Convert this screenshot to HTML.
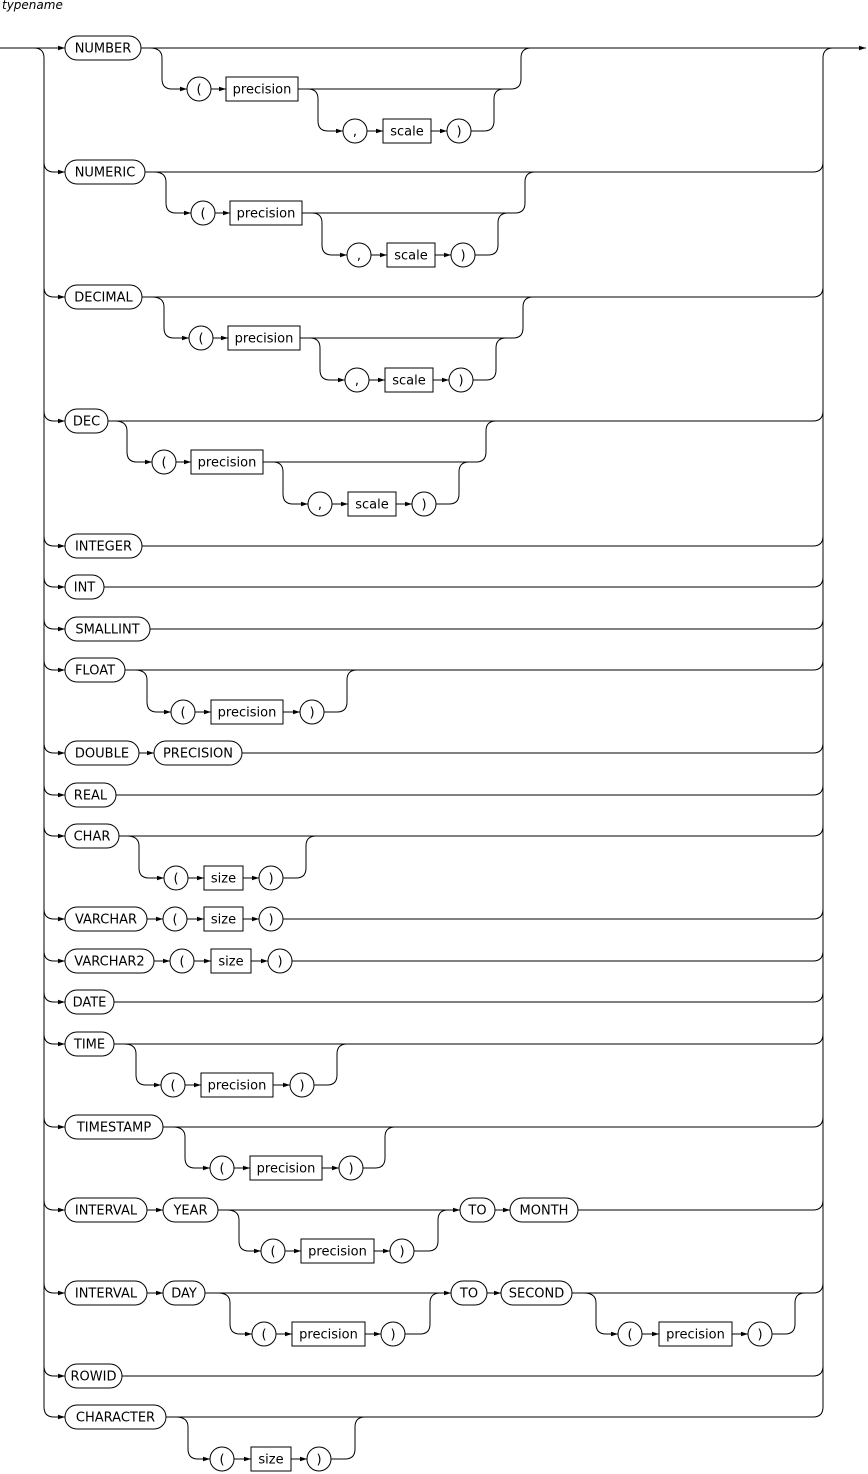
<!DOCTYPE html>
<html><head><meta charset="utf-8"><style>
html,body{margin:0;padding:0;background:#fff}
svg{display:block}
text{font-family:"DejaVu Sans","Liberation Sans",sans-serif;font-size:13px;fill:#000;text-anchor:middle}
.p{fill:none;stroke:#000;stroke-width:1}
.n{fill:#fff;stroke:#000;stroke-width:1}
</style></head><body>
<svg width="868" height="1474" viewBox="0 0 868 1474" xmlns="http://www.w3.org/2000/svg">
<defs><marker id="a" markerWidth="7" markerHeight="6" refX="7" refY="3" orient="auto" markerUnits="userSpaceOnUse"><path d="M0,0.8 L7,3 L0,5.2z" fill="#000"/></marker>
<g id="opt">
<path class="p" d="M150 48 Q162 48 162 58 V79 Q162 89 172 89 H187" marker-end="url(#a)"/>
<circle class="n" cx="199" cy="89" r="12"/><text x="199" y="93.5">(</text>
<path class="p" d="M211 89 H226" marker-end="url(#a)"/>
<rect class="n" x="226" y="77" width="72" height="24"/><text x="262" y="93.5">precision</text>
<path class="p" d="M298 89 H511 Q521 89 521 79 V58 Q521 48 531 48"/>
<path class="p" d="M298 89 H308 Q318 89 318 99 V121 Q318 131 328 131 H343" marker-end="url(#a)"/>
<circle class="n" cx="355" cy="131" r="12"/><text x="355" y="135.5">,</text>
<path class="p" d="M367 131 H383" marker-end="url(#a)"/>
<rect class="n" x="383" y="119" width="48" height="24"/><text x="407" y="135.5">scale</text>
<path class="p" d="M431 131 H447" marker-end="url(#a)"/>
<circle class="n" cx="459" cy="131" r="12"/><text x="459" y="135.5">)</text>
<path class="p" d="M471 131 H484 Q494 131 494 121 V99 Q494 89 504 89"/>
</g></defs>
<text x="2" y="9" style="font-style:italic;text-anchor:start;font-size:12px">typename</text>
<path class="p" d="M0 48 H65" marker-end="url(#a)"/>
<path class="p" d="M141 48 H866" marker-end="url(#a)"/>
<path class="p" d="M34 48 Q44 48 44 58 V1407 Q44 1417 54 1417 H65" marker-end="url(#a)"/>
<path class="p" d="M166 1417 H813 Q823 1417 823 1407 V58 Q823 48 833 48"/>
<!-- left entries -->
<path class="p" d="M44 162 Q44 172 54 172 H65 M44 287 Q44 297 54 297 H65 M44 411 Q44 421 54 421 H65 M44 536 Q44 546 54 546 H65 M44 577 Q44 587 54 587 H65 M44 619 Q44 629 54 629 H65 M44 660 Q44 670 54 670 H65 M44 743 Q44 753 54 753 H65 M44 785 Q44 795 54 795 H65 M44 826 Q44 836 54 836 H65 M44 909 Q44 919 54 919 H65 M44 951 Q44 961 54 961 H65 M44 992 Q44 1002 54 1002 H65 M44 1034 Q44 1044 54 1044 H65 M44 1117 Q44 1127 54 1127 H65 M44 1200 Q44 1210 54 1210 H65 M44 1283 Q44 1293 54 1293 H65 M44 1366 Q44 1376 54 1376 H65"/>
<g fill="#000">
<polygon points="65,172 58,169.8 58,174.2"/><polygon points="65,297 58,294.8 58,299.2"/><polygon points="65,421 58,418.8 58,423.2"/><polygon points="65,546 58,543.8 58,548.2"/><polygon points="65,587 58,584.8 58,589.2"/><polygon points="65,629 58,626.8 58,631.2"/><polygon points="65,670 58,667.8 58,672.2"/><polygon points="65,753 58,750.8 58,755.2"/><polygon points="65,795 58,792.8 58,797.2"/><polygon points="65,836 58,833.8 58,838.2"/><polygon points="65,919 58,916.8 58,921.2"/><polygon points="65,961 58,958.8 58,963.2"/><polygon points="65,1002 58,999.8 58,1004.2"/><polygon points="65,1044 58,1041.8 58,1046.2"/><polygon points="65,1127 58,1124.8 58,1129.2"/><polygon points="65,1210 58,1207.8 58,1212.2"/><polygon points="65,1293 58,1290.8 58,1295.2"/><polygon points="65,1376 58,1373.8 58,1378.2"/>
</g>
<!-- right exits -->
<path class="p" d="M145 172 H813 Q823 172 823 162 M142 297 H813 Q823 297 823 287 M108 421 H813 Q823 421 823 411 M142 546 H813 Q823 546 823 536 M104 587 H813 Q823 587 823 577 M150 629 H813 Q823 629 823 619 M125 670 H813 Q823 670 823 660 M242 753 H813 Q823 753 823 743 M116 795 H813 Q823 795 823 785 M119 836 H813 Q823 836 823 826 M283 919 H813 Q823 919 823 909 M292 961 H813 Q823 961 823 951 M114 1002 H813 Q823 1002 823 992 M114 1044 H813 Q823 1044 823 1034 M163 1127 H813 Q823 1127 823 1117 M578 1210 H813 Q823 1210 823 1200 M572 1293 H813 Q823 1293 823 1283 M122 1376 H813 Q823 1376 823 1366"/>
<!-- rows 1-4 -->
<rect class="n" x="65" y="36" width="76" height="24" rx="12"/><text x="103" y="52.5">NUMBER</text>
<use href="#opt"/>
<rect class="n" x="65" y="160" width="80" height="24" rx="12"/><text x="105" y="176.5">NUMERIC</text>
<use href="#opt" transform="translate(4,124)"/>
<rect class="n" x="65" y="285" width="77" height="24" rx="12"/><text x="103.5" y="301.5">DECIMAL</text>
<use href="#opt" transform="translate(2,249)"/>
<rect class="n" x="65" y="409" width="43" height="24" rx="12"/><text x="86.5" y="425.5">DEC</text>
<use href="#opt" transform="translate(-35,373)"/>
<!-- simple rows -->
<rect class="n" x="65" y="534" width="77" height="24" rx="12"/><text x="103.5" y="550.5">INTEGER</text>
<rect class="n" x="65" y="575" width="39" height="24" rx="12"/><text x="84.5" y="591.5">INT</text>
<rect class="n" x="65" y="617" width="85" height="24" rx="12"/><text x="107.5" y="633.5">SMALLINT</text>
<!-- FLOAT -->
<rect class="n" x="65" y="658" width="60" height="24" rx="12"/><text x="95" y="674.5">FLOAT</text>
<path class="p" d="M135 670 Q147 670 147 680 V702 Q147 712 157 712 H171" marker-end="url(#a)"/>
<circle class="n" cx="183" cy="712" r="12"/><text x="183" y="716.5">(</text>
<path class="p" d="M195 712 H211" marker-end="url(#a)"/>
<rect class="n" x="211" y="700" width="72" height="24"/><text x="247" y="716.5">precision</text>
<path class="p" d="M283 712 H300" marker-end="url(#a)"/>
<circle class="n" cx="312" cy="712" r="12"/><text x="312" y="716.5">)</text>
<path class="p" d="M324 712 H337 Q347 712 347 702 V680 Q347 670 357 670"/>
<!-- DOUBLE PRECISION -->
<rect class="n" x="65" y="741" width="74" height="24" rx="12"/><text x="102" y="757.5">DOUBLE</text>
<path class="p" d="M139 753 H154" marker-end="url(#a)"/>
<rect class="n" x="154" y="741" width="88" height="24" rx="12"/><text x="198" y="757.5">PRECISION</text>
<rect class="n" x="65" y="783" width="51" height="24" rx="12"/><text x="90.5" y="799.5">REAL</text>
<!-- CHAR -->
<rect class="n" x="65" y="824" width="54" height="24" rx="12"/><text x="92" y="840.5">CHAR</text>
<path class="p" d="M127 836 Q139 836 139 846 V868 Q139 878 149 878 H164" marker-end="url(#a)"/>
<circle class="n" cx="176" cy="878" r="12"/><text x="176" y="882.5">(</text>
<path class="p" d="M188 878 H204" marker-end="url(#a)"/>
<rect class="n" x="204" y="866" width="39" height="24"/><text x="223.5" y="882.5">size</text>
<path class="p" d="M243 878 H259" marker-end="url(#a)"/>
<circle class="n" cx="271" cy="878" r="12"/><text x="271" y="882.5">)</text>
<path class="p" d="M283 878 H296 Q306 878 306 868 V846 Q306 836 316 836"/>
<!-- VARCHAR -->
<rect class="n" x="65" y="907" width="82" height="24" rx="12"/><text x="106" y="923.5">VARCHAR</text>
<path class="p" d="M147 919 H163" marker-end="url(#a)"/>
<circle class="n" cx="175" cy="919" r="12"/><text x="175" y="923.5">(</text>
<path class="p" d="M187 919 H204" marker-end="url(#a)"/>
<rect class="n" x="204" y="907" width="39" height="24"/><text x="223.5" y="923.5">size</text>
<path class="p" d="M243 919 H259" marker-end="url(#a)"/>
<circle class="n" cx="271" cy="919" r="12"/><text x="271" y="923.5">)</text>
<!-- VARCHAR2 -->
<rect class="n" x="65" y="949" width="89" height="24" rx="12"/><text x="109.5" y="965.5">VARCHAR2</text>
<path class="p" d="M154 961 H170" marker-end="url(#a)"/>
<circle class="n" cx="182" cy="961" r="12"/><text x="182" y="965.5">(</text>
<path class="p" d="M194 961 H211" marker-end="url(#a)"/>
<rect class="n" x="211" y="949" width="40" height="24"/><text x="231" y="965.5">size</text>
<path class="p" d="M251 961 H268" marker-end="url(#a)"/>
<circle class="n" cx="280" cy="961" r="12"/><text x="280" y="965.5">)</text>
<rect class="n" x="65" y="990" width="49" height="24" rx="12"/><text x="89.5" y="1006.5">DATE</text>
<!-- TIME -->
<rect class="n" x="65" y="1032" width="49" height="24" rx="12"/><text x="89.5" y="1048.5">TIME</text>
<path class="p" d="M124 1044 Q136 1044 136 1054 V1075 Q136 1085 146 1085 H161" marker-end="url(#a)"/>
<circle class="n" cx="173" cy="1085" r="12"/><text x="173" y="1089.5">(</text>
<path class="p" d="M185 1085 H201" marker-end="url(#a)"/>
<rect class="n" x="201" y="1073" width="72" height="24"/><text x="237" y="1089.5">precision</text>
<path class="p" d="M273 1085 H290" marker-end="url(#a)"/>
<circle class="n" cx="302" cy="1085" r="12"/><text x="302" y="1089.5">)</text>
<path class="p" d="M314 1085 H327 Q337 1085 337 1075 V1054 Q337 1044 347 1044"/>
<!-- TIMESTAMP -->
<rect class="n" x="65" y="1115" width="98" height="24" rx="12"/><text x="114" y="1131.5">TIMESTAMP</text>
<path class="p" d="M173 1127 Q185 1127 185 1137 V1158 Q185 1168 195 1168 H210" marker-end="url(#a)"/>
<circle class="n" cx="222" cy="1168" r="12"/><text x="222" y="1172.5">(</text>
<path class="p" d="M234 1168 H250" marker-end="url(#a)"/>
<rect class="n" x="250" y="1156" width="72" height="24"/><text x="286" y="1172.5">precision</text>
<path class="p" d="M322 1168 H339" marker-end="url(#a)"/>
<circle class="n" cx="351" cy="1168" r="12"/><text x="351" y="1172.5">)</text>
<path class="p" d="M363 1168 H375 Q385 1168 385 1158 V1137 Q385 1127 395 1127"/>
<!-- INTERVAL YEAR -->
<rect class="n" x="65" y="1198" width="82" height="24" rx="12"/><text x="106" y="1214.5">INTERVAL</text>
<path class="p" d="M147 1210 H163" marker-end="url(#a)"/>
<rect class="n" x="163" y="1198" width="55" height="24" rx="12"/><text x="190.5" y="1214.5">YEAR</text>
<path class="p" d="M218 1210 H460" marker-end="url(#a)"/>
<path class="p" d="M227 1210 Q239 1210 239 1220 V1241 Q239 1251 249 1251 H261" marker-end="url(#a)"/>
<circle class="n" cx="273" cy="1251" r="12"/><text x="273" y="1255.5">(</text>
<path class="p" d="M285 1251 H301" marker-end="url(#a)"/>
<rect class="n" x="301" y="1239" width="73" height="24"/><text x="337.5" y="1255.5">precision</text>
<path class="p" d="M374 1251 H390" marker-end="url(#a)"/>
<circle class="n" cx="402" cy="1251" r="12"/><text x="402" y="1255.5">)</text>
<path class="p" d="M414 1251 H428 Q438 1251 438 1241 V1220 Q438 1210 448 1210"/>
<rect class="n" x="460" y="1198" width="35" height="24" rx="12"/><text x="477.5" y="1214.5">TO</text>
<path class="p" d="M495 1210 H510" marker-end="url(#a)"/>
<rect class="n" x="510" y="1198" width="68" height="24" rx="12"/><text x="544" y="1214.5">MONTH</text>
<!-- INTERVAL DAY -->
<rect class="n" x="65" y="1281" width="82" height="24" rx="12"/><text x="106" y="1297.5">INTERVAL</text>
<path class="p" d="M147 1293 H163" marker-end="url(#a)"/>
<rect class="n" x="163" y="1281" width="42" height="24" rx="12"/><text x="184" y="1297.5">DAY</text>
<path class="p" d="M205 1293 H451" marker-end="url(#a)"/>
<path class="p" d="M218 1293 Q230 1293 230 1303 V1324 Q230 1334 240 1334 H252" marker-end="url(#a)"/>
<circle class="n" cx="264" cy="1334" r="12"/><text x="264" y="1338.5">(</text>
<path class="p" d="M276 1334 H292" marker-end="url(#a)"/>
<rect class="n" x="292" y="1322" width="73" height="24"/><text x="328.5" y="1338.5">precision</text>
<path class="p" d="M365 1334 H381" marker-end="url(#a)"/>
<circle class="n" cx="393" cy="1334" r="12"/><text x="393" y="1338.5">)</text>
<path class="p" d="M405 1334 H420 Q430 1334 430 1324 V1303 Q430 1293 440 1293"/>
<rect class="n" x="451" y="1281" width="36" height="24" rx="12"/><text x="469" y="1297.5">TO</text>
<path class="p" d="M487 1293 H501" marker-end="url(#a)"/>
<rect class="n" x="501" y="1281" width="71" height="24" rx="12"/><text x="536.5" y="1297.5">SECOND</text>
<path class="p" d="M584 1293 Q596 1293 596 1303 V1324 Q596 1334 606 1334 H618" marker-end="url(#a)"/>
<circle class="n" cx="630" cy="1334" r="12"/><text x="630" y="1338.5">(</text>
<path class="p" d="M642 1334 H659" marker-end="url(#a)"/>
<rect class="n" x="659" y="1322" width="73" height="24"/><text x="695.5" y="1338.5">precision</text>
<path class="p" d="M732 1334 H748" marker-end="url(#a)"/>
<circle class="n" cx="760" cy="1334" r="12"/><text x="760" y="1338.5">)</text>
<path class="p" d="M772 1334 H785 Q795 1334 795 1324 V1303 Q795 1293 805 1293"/>
<rect class="n" x="65" y="1364" width="57" height="24" rx="12"/><text x="93.5" y="1380.5">ROWID</text>
<!-- CHARACTER -->
<rect class="n" x="65" y="1405" width="101" height="24" rx="12"/><text x="115.5" y="1421.5">CHARACTER</text>
<path class="p" d="M176 1417 Q188 1417 188 1427 V1449 Q188 1459 198 1459 H210" marker-end="url(#a)"/>
<circle class="n" cx="222" cy="1459" r="12"/><text x="222" y="1463.5">(</text>
<path class="p" d="M234 1459 H251" marker-end="url(#a)"/>
<rect class="n" x="251" y="1447" width="40" height="24"/><text x="271" y="1463.5">size</text>
<path class="p" d="M291 1459 H307" marker-end="url(#a)"/>
<circle class="n" cx="319" cy="1459" r="12"/><text x="319" y="1463.5">)</text>
<path class="p" d="M331 1459 H345 Q355 1459 355 1449 V1427 Q355 1417 365 1417"/>
</svg>
</body></html>
